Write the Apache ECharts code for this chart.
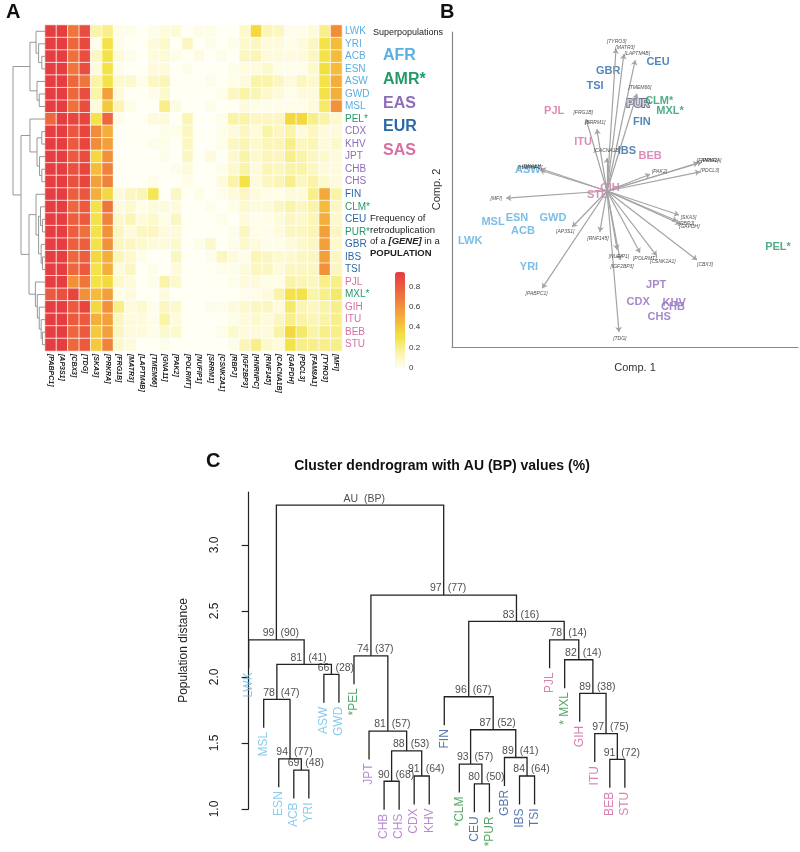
<!DOCTYPE html>
<html><head><meta charset="utf-8">
<script src="https://cdn.jsdelivr.net/npm/echarts@6/dist/echarts.min.js"></script>
<style>html,body{margin:0;padding:0;background:#fff}#c{width:800px;height:852px}</style>
</head><body><div id="c"></div>
<script>
const FONT = '"Liberation Sans", Arial, Helvetica, sans-serif';

// ---------------- Panel A : heatmap ----------------
const populations = ['LWK','YRI','ACB','ESN','ASW','GWD','MSL','PEL*','CDX','KHV','JPT','CHB','CHS','FIN','CLM*','CEU','PUR*','GBR','IBS','TSI','PJL','MXL*','GIH','ITU','BEB','STU'];
const popSuper = ['AFR','AFR','AFR','AFR','AFR','AFR','AFR','AMR','EAS','EAS','EAS','EAS','EAS','EUR','AMR','EUR','AMR','EUR','EUR','EUR','SAS','AMR','SAS','SAS','SAS','SAS'];
const genes = ['[PABPC1]','[AP3S1]','[CBX3]','[TDG]','[SKA3]','[PRKRA]','[FRG1B]','[MATR3]','[LAPTM4B]','[TMEM66]','[GNA11]','[PAK2]','[POLRMT]','[NUFIP1]','[SRRM1]','[CSNK2A1]','[RBPJ]','[IGF2BP3]','[HNRNPC]','[RNF145]','[CACNA1B]','[GAPDH]','[PDCL3]','[FAM8A1]','[TYRO3]','[MFI]'];
const freq = [
 [0.93,0.93,0.70,0.86,0.15,0.20,0.03,0.02,0.00,0.02,0.05,0.06,0.00,0.03,0.03,0.00,0.00,0.08,0.35,0.12,0.10,0.02,0.02,0.05,0.20,0.62],
 [0.93,0.93,0.75,0.88,0.02,0.30,0.02,0.00,0.00,0.05,0.08,0.00,0.10,0.00,0.02,0.00,0.02,0.08,0.10,0.05,0.05,0.03,0.05,0.10,0.30,0.45],
 [0.93,0.93,0.72,0.86,0.10,0.30,0.05,0.02,0.00,0.05,0.06,0.03,0.00,0.04,0.00,0.02,0.00,0.10,0.12,0.05,0.05,0.05,0.05,0.10,0.30,0.45],
 [0.93,0.93,0.70,0.86,0.05,0.30,0.02,0.00,0.00,0.05,0.05,0.00,0.02,0.00,0.00,0.00,0.03,0.04,0.05,0.08,0.03,0.02,0.02,0.08,0.32,0.45],
 [0.93,0.93,0.75,0.70,0.15,0.30,0.08,0.08,0.02,0.10,0.12,0.00,0.00,0.00,0.02,0.00,0.03,0.05,0.15,0.15,0.10,0.05,0.10,0.08,0.30,0.50],
 [0.93,0.93,0.75,0.86,0.15,0.55,0.05,0.00,0.00,0.02,0.08,0.00,0.00,0.00,0.00,0.03,0.10,0.15,0.12,0.08,0.05,0.02,0.05,0.05,0.30,0.50],
 [0.93,0.93,0.72,0.86,0.05,0.40,0.12,0.03,0.00,0.00,0.20,0.04,0.00,0.00,0.02,0.00,0.00,0.05,0.03,0.02,0.02,0.02,0.02,0.05,0.25,0.60],
 [0.75,0.93,0.90,0.90,0.30,0.75,0.03,0.00,0.00,0.05,0.05,0.00,0.12,0.00,0.00,0.02,0.15,0.15,0.10,0.10,0.10,0.35,0.35,0.20,0.15,0.08],
 [0.93,0.93,0.82,0.90,0.62,0.50,0.00,0.00,0.00,0.00,0.02,0.03,0.10,0.00,0.00,0.02,0.05,0.10,0.05,0.15,0.10,0.15,0.05,0.10,0.05,0.05],
 [0.93,0.93,0.80,0.90,0.62,0.55,0.00,0.00,0.00,0.02,0.03,0.00,0.10,0.00,0.00,0.03,0.10,0.12,0.08,0.12,0.12,0.20,0.10,0.12,0.05,0.08],
 [0.93,0.93,0.80,0.86,0.35,0.60,0.00,0.00,0.00,0.00,0.02,0.00,0.10,0.00,0.05,0.00,0.08,0.15,0.08,0.12,0.10,0.20,0.15,0.10,0.08,0.05],
 [0.93,0.93,0.85,0.90,0.45,0.65,0.00,0.00,0.00,0.00,0.00,0.02,0.05,0.00,0.00,0.02,0.08,0.15,0.05,0.12,0.10,0.15,0.15,0.10,0.05,0.05],
 [0.93,0.93,0.85,0.90,0.55,0.65,0.00,0.00,0.00,0.02,0.00,0.00,0.03,0.00,0.00,0.05,0.15,0.30,0.05,0.10,0.12,0.20,0.10,0.15,0.08,0.05],
 [0.93,0.93,0.78,0.82,0.50,0.35,0.05,0.10,0.12,0.28,0.00,0.10,0.00,0.03,0.00,0.02,0.05,0.10,0.05,0.03,0.03,0.05,0.05,0.20,0.52,0.15],
 [0.93,0.93,0.75,0.80,0.30,0.70,0.05,0.08,0.03,0.05,0.05,0.05,0.00,0.00,0.02,0.00,0.03,0.08,0.05,0.05,0.10,0.15,0.10,0.15,0.45,0.10],
 [0.93,0.93,0.78,0.80,0.30,0.65,0.08,0.12,0.05,0.08,0.03,0.10,0.00,0.00,0.00,0.02,0.00,0.05,0.02,0.03,0.05,0.10,0.08,0.12,0.50,0.08],
 [0.93,0.93,0.78,0.72,0.30,0.60,0.10,0.05,0.10,0.10,0.05,0.05,0.00,0.00,0.00,0.00,0.02,0.10,0.03,0.02,0.05,0.10,0.10,0.12,0.55,0.10],
 [0.93,0.93,0.78,0.78,0.30,0.60,0.10,0.10,0.08,0.05,0.05,0.08,0.00,0.02,0.08,0.00,0.02,0.08,0.05,0.02,0.02,0.05,0.08,0.10,0.55,0.08],
 [0.93,0.93,0.75,0.78,0.35,0.50,0.12,0.08,0.03,0.00,0.00,0.10,0.00,0.00,0.02,0.10,0.05,0.02,0.12,0.10,0.08,0.08,0.10,0.10,0.55,0.10],
 [0.93,0.93,0.75,0.80,0.30,0.50,0.05,0.10,0.00,0.02,0.00,0.05,0.00,0.00,0.00,0.02,0.02,0.05,0.10,0.10,0.05,0.10,0.10,0.10,0.60,0.10],
 [0.93,0.93,0.60,0.70,0.30,0.35,0.08,0.05,0.00,0.02,0.15,0.08,0.00,0.00,0.00,0.00,0.02,0.05,0.05,0.03,0.03,0.15,0.12,0.10,0.20,0.20],
 [0.80,0.85,0.90,0.60,0.45,0.55,0.03,0.05,0.00,0.00,0.05,0.00,0.00,0.00,0.00,0.00,0.00,0.02,0.03,0.05,0.15,0.30,0.30,0.15,0.20,0.25],
 [0.93,0.93,0.80,0.90,0.35,0.60,0.20,0.05,0.08,0.02,0.10,0.08,0.00,0.00,0.02,0.02,0.05,0.08,0.10,0.10,0.05,0.25,0.12,0.10,0.15,0.20],
 [0.93,0.93,0.80,0.80,0.50,0.55,0.10,0.05,0.05,0.02,0.15,0.05,0.00,0.00,0.00,0.00,0.03,0.05,0.08,0.05,0.10,0.20,0.15,0.12,0.15,0.20],
 [0.93,0.93,0.75,0.80,0.40,0.55,0.10,0.05,0.05,0.02,0.08,0.08,0.00,0.00,0.00,0.02,0.08,0.05,0.05,0.05,0.15,0.35,0.25,0.15,0.20,0.20],
 [0.93,0.93,0.75,0.80,0.40,0.65,0.08,0.05,0.00,0.00,0.02,0.00,0.00,0.00,0.00,0.00,0.02,0.12,0.20,0.08,0.05,0.30,0.20,0.20,0.20,0.20]
];
// Row dendrogram: [left, right, height]; negative = leaf (row -(i+1)), positive = earlier merge (1-based)
const rowMerges = [
 [-3,-4,0.10],[-2,1,0.20],[-1,2,0.28],[-6,-7,0.18],[-5,4,0.25],[3,5,0.47],
 [-9,-10,0.10],[-12,-13,0.10],[-11,8,0.17],[7,9,0.25],[-8,10,0.47],
 [-16,-17,0.08],[-15,12,0.14],[-19,-20,0.08],[-18,14,0.12],[13,15,0.20],[-14,16,0.28],
 [-25,-26,0.08],[-24,18,0.12],[-23,19,0.18],[-22,20,0.24],[-21,21,0.30],
 [17,22,0.50],[11,23,0.75],[6,24,1.0]
];
const colorTicks = [0, 0.2, 0.4, 0.6, 0.8];
const superNames = ['AFR','AMR*','EAS','EUR','SAS'];
const superKeys = ['AFR','AMR','EAS','EUR','SAS'];

// ---------------- Panel B : biplot ----------------
const bpPops  = ['CEU','GBR','TSI','PJL','PUR','CLM*','MXL*','FIN','ITU','IBS','BEB','ASW','GIH','STU','MSL','ESN','GWD','ACB','LWK','YRI','PEL*','JPT','CDX','KHV','CHB','CHS'];
const comp1   = [0.85,0.02,-0.20,-0.88,0.52,0.87,1.05,0.58,-0.40,0.33,0.72,-1.32,0.05,-0.15,-1.90,-1.50,-0.90,-1.40,-2.28,-1.30,2.85,0.82,0.52,1.12,1.10,0.87];
const comp2   = [2.15,2.00,1.75,1.33,1.45,1.50,1.33,1.15,0.82,0.67,0.58,0.35,0.05,-0.07,-0.52,-0.45,-0.45,-0.67,-0.83,-1.27,-0.93,-1.57,-1.85,-1.87,-1.93,-2.10];
const loadGenes = ['[TYRO3]','[MATR3]','[LAPTM4B]','[TMEM66]','[FRG1B]','[SRRM1]','[CACNA1B]','[HNRNPC]','[GNA11]','[FAM8A1]','[PRKRA]','[PDCL3]','[PAK2]','[MFI]','[AP3S1]','[RNF145]','[SKA3]','[RBPJ]','[GAPDH]','[CBX3]','[CSNK2A1]','[POLRMT]','[NUFIP1]','[IGF2BP3]','[PABPC1]','[TDG]'];
const load1 = [0.15,0.28,0.47,0.50,-0.35,-0.17,0.00,-1.12,-1.10,1.52,1.58,1.55,0.72,-1.68,-0.58,-0.12,1.20,1.17,1.22,1.50,0.83,0.55,0.17,0.22,-1.08,0.20];
const load2 = [2.37,2.28,2.18,1.62,1.20,1.03,0.55,0.35,0.37,0.47,0.48,0.32,0.28,-0.12,-0.60,-0.68,-0.40,-0.50,-0.55,-1.15,-1.08,-1.03,-0.98,-1.15,-1.62,-2.35];

// ---------------- Panel C : pvclust dendrogram ----------------
const leavesC = ['LWK','MSL','ESN','ACB','YRI','ASW','GWD','*PEL','JPT','CHB','CHS','CDX','KHV','FIN','*CLM','CEU','*PUR','GBR','IBS','TSI','PJL','* MXL','GIH','ITU','BEB','STU'];
const leavesCSuper = ['AFR','AFR','AFR','AFR','AFR','AFR','AFR','AMR','EAS','EAS','EAS','EAS','EAS','EUR','AMR','EUR','AMR','EUR','EUR','EUR','SAS','AMR','SAS','SAS','SAS','SAS'];
const mergesC = [
 [-4,-5,1.295],[-3,1,1.38],[-2,2,1.83],[-6,-7,2.02],[3,4,2.095],[-1,5,2.28],
 [-10,-11,1.21],[-12,-13,1.25],[7,8,1.44],[-9,9,1.59],[-8,10,2.16],
 [-16,-17,1.19],[-15,12,1.34],[-19,-20,1.25],[-18,14,1.39],[13,15,1.60],[-14,16,1.85],
 [-25,-26,1.375],[-24,18,1.57],[-23,19,1.875],[-22,20,2.13],[-21,21,2.28],
 [17,22,2.42],[11,23,2.62],[6,24,3.30]
];
const auC = ['69','94','78','66','81','99','90','91','88','81','74','80','93','84','89','87','96','91','97','89','82','78','83','97','AU'];
const bpC = ['(48)','(77)','(47)','(28)','(41)','(90)','(68)','(64)','(53)','(57)','(37)','(50)','(57)','(64)','(41)','(52)','(67)','(72)','(75)','(38)','(14)','(14)','(16)','(77)','(BP)'];
const distTicks = [1.0, 1.5, 2.0, 2.5, 3.0];

// ---------------- helpers ----------------
const supColA = {AFR:'#5aaee0', AMR:'#26996a', EAS:'#8e6cbb', EUR:'#2a69a8', SAS:'#d66fa3'};
const supColC = {AFR:'#6cc0e8', AMR:'#2b9140', EAS:'#a56ec5', EUR:'#2c5597', SAS:'#d0609c'};
const superOf = {};
populations.forEach((p,i)=> superOf[p] = popSuper[i]);

function buildDendro(merges, leafPos, leafH) {
  const nodePos = [], nodeH = [], segs = [], leafBottom = [];
  merges.forEach(m => {
    const h = m[2];
    const ch = [m[0], m[1]].map(c => {
      if (c < 0) { const lh = leafH(h); leafBottom[-c-1] = lh; return {p: leafPos[-c-1], h: lh}; }
      return {p: nodePos[c-1], h: nodeH[c-1]};
    });
    segs.push([[ch[0].p, ch[0].h],[ch[0].p, h],[ch[1].p, h],[ch[1].p, ch[1].h]]);
    nodePos.push((ch[0].p + ch[1].p)/2); nodeH.push(h);
  });
  return {segs, nodePos, nodeH, leafBottom};
}

// Panel A dendrogram (x = height, y = row)
const dA = buildDendro(rowMerges, populations.map((_,i)=>i), () => 0);
const dendroAData = dA.segs.map(s => ({coords: s.map(pt => [pt[1], pt[0]])}));

// Heatmap data
const heatData = [];
freq.forEach((row, r) => row.forEach((v, c) => heatData.push([c, r, v])));

// Panel C dendrogram
const HANG = 0.215;
const dC = buildDendro(mergesC, leavesC.map((_,i)=>i), h => h - HANG);
const dendroCData = dC.segs.map(s => ({coords: s}));
const leafLabelData = leavesC.map((n,i)=>({value:[i, dC.leafBottom[i]], name:n, label:{color: supColC[leavesCSuper[i]]}}));
const auData = dC.nodePos.map((p,k)=>({value:[p, dC.nodeH[k]], name: auC[k]}));
const bpData = dC.nodePos.map((p,k)=>({value:[p, dC.nodeH[k]], name: bpC[k]}));

// Biplot
const popData = bpPops.map((n,i)=>({value:[comp1[i], comp2[i]], name:n, label:{color: supColA[superOf[n]]}}));
const arrowData = loadGenes.map((g,i)=>({coords:[[0,0],[load1[i], load2[i]]]}));
const geneLblData = loadGenes.map((g,i)=>{
  const L = Math.hypot(load1[i], load2[i]);
  const ux = load1[i]/L, uy = load2[i]/L;
  return {value:[load1[i], load2[i]], name:g, label:{offset:[ux*10, -uy*7]}};
});

// Graphics (legend texts etc.)
const graphics = [
  {type:'text', x:6, y:2, style:{text:'A', font:'bold 20px '+FONT, fill:'#111'}},
  {type:'text', x:440, y:2, style:{text:'B', font:'bold 20px '+FONT, fill:'#111'}},
  {type:'text', x:206, y:451, style:{text:'C', font:'bold 20px '+FONT, fill:'#111'}},
  {type:'text', x:442, y:466, style:{text:'Cluster dendrogram with AU (BP) values (%)', font:'bold 14px '+FONT, fill:'#111', textAlign:'center', textVerticalAlign:'middle'}},
  {type:'text', x:373, y:33, style:{text:'Superpopulations', font:'9px '+FONT, fill:'#222', textVerticalAlign:'middle'}},
  {type:'text', x:370, y:213, style:{text:'Frequency of\nretroduplication\nof a {b|[GENE]} in a\n{c|POPULATION}', font:'9.5px '+FONT, fill:'#222', lineHeight:11.5,
     rich:{b:{font:'bold italic 9.5px '+FONT, fill:'#222'}, c:{font:'bold 9.5px '+FONT, fill:'#222'}}}}
];
superNames.forEach((s,i)=>{
  graphics.push({type:'text', x:383, y:56 + i*23.6, style:{text:s, font:'bold 16px '+FONT, fill:supColA[superKeys[i]], textVerticalAlign:'middle'}});
});

const chart = echarts.init(document.getElementById('c'), null, {renderer:'canvas'});
chart.setOption({
  animation:false,
  backgroundColor:'#fff',
  textStyle:{fontFamily:FONT},
  graphic: graphics,
  grid:[
    {left:45, top:25, width:297, height:326},
    {left:13, top:25, width:32, height:326},
    {left:395, top:272, width:10, height:96},
    {left:452, top:32, width:346, height:315},
    {left:233, top:492, width:406, height:317}
  ],
  xAxis:[
    {gridIndex:0, type:'category', data:genes, position:'bottom', axisLine:{show:false}, axisTick:{show:false}, splitLine:{show:false},
      axisLabel:{interval:0, rotate:-90, margin:3, fontSize:7, fontStyle:'italic', fontWeight:'bold', color:'#222'}},
    {gridIndex:1, type:'value', min:0, max:1, inverse:true, show:false},
    {gridIndex:2, type:'value', min:0, max:1, show:false},
    {gridIndex:3, type:'value', min:-2.583, max:3.183, axisLine:{show:true, onZero:false, lineStyle:{color:'#888', width:1.2}}, axisTick:{show:false}, axisLabel:{show:false}, splitLine:{show:false},
      name:'Comp. 1', nameLocation:'middle', nameGap:15, nameTextStyle:{fontSize:11, color:'#333', padding:[0,0,0,20]}},
    {gridIndex:4, type:'value', min:-1.04, max:25.94, show:false}
  ],
  yAxis:[
    {gridIndex:0, type:'category', data:populations, inverse:true, position:'right', axisLine:{show:false}, axisTick:{show:false}, splitLine:{show:false},
      axisLabel:{interval:0, margin:3, fontSize:10, color:(v,i)=>supColA[popSuper[populations.indexOf(v)]]}},
    {gridIndex:1, type:'value', min:-0.5, max:25.5, inverse:true, show:false},
    {gridIndex:2, type:'value', min:0, max:0.94, position:'right', axisLine:{show:false}, axisTick:{show:false}, splitLine:{show:false},
      axisLabel:{customValues:colorTicks, margin:4, fontSize:8, color:'#333', formatter:v=> v===0 ? '0' : String(v)}},
    {gridIndex:3, type:'value', min:-2.6, max:2.65, axisLine:{show:true, onZero:false, lineStyle:{color:'#888', width:1.2}}, axisTick:{show:false}, axisLabel:{show:false}, splitLine:{show:false},
      name:'Comp. 2', nameLocation:'middle', nameGap:10, nameRotate:90, nameTextStyle:{fontSize:11, color:'#333'}},
    {gridIndex:4, type:'value', min:1.0, max:3.4, axisLine:{show:true, lineStyle:{color:'#222', width:1.2}},
      axisTick:{show:true, customValues:distTicks, length:7, lineStyle:{color:'#222', width:1.2}}, splitLine:{show:false},
      axisLabel:{customValues:distTicks, rotate:90, margin:12, fontSize:12, color:'#222', formatter:v=>v.toFixed(1)},
      name:'Population distance', nameLocation:'middle', nameGap:43, nameTextStyle:{fontSize:12, color:'#222'}}
  ],
  visualMap:{
    type:'continuous', seriesIndex:0, min:0, max:0.94, calculable:false, hoverLink:false, realtime:false,
    left:395, top:272, itemWidth:10, itemHeight:96, padding:0, text:null, showLabel:false,
    inRange:{color:['#fffff4','#faf3a6','#f2e240','#f5b63b','#f08a3a','#ec5e3e','#e63c40']}
  },
  series:[
    {type:'heatmap', xAxisIndex:0, yAxisIndex:0, data:heatData, silent:true,
      itemStyle:{borderColor:'rgba(255,255,255,0.75)', borderWidth:1}},
    {type:'lines', coordinateSystem:'cartesian2d', xAxisIndex:1, yAxisIndex:1, polyline:true, silent:true, clip:false,
      lineStyle:{color:'#8c8c8c', width:0.9, opacity:1}, data:dendroAData},
    {type:'scatter', xAxisIndex:2, yAxisIndex:2, data:[], silent:true},
    {type:'scatter', xAxisIndex:3, yAxisIndex:3, symbolSize:0, data:popData, silent:true, z:2,
      label:{show:true, position:'inside', formatter:'{b}', fontSize:11, fontWeight:'bold', align:'center', verticalAlign:'middle'}},
    {type:'lines', coordinateSystem:'cartesian2d', xAxisIndex:3, yAxisIndex:3, silent:true, clip:false, z:3,
      symbol:['none','arrow'], symbolSize:5, lineStyle:{color:'#a3a3a3', width:1.2, opacity:1}, data:arrowData},
    {type:'scatter', xAxisIndex:3, yAxisIndex:3, symbolSize:0, data:geneLblData, silent:true, z:4,
      label:{show:true, position:'inside', formatter:'{b}', fontSize:5, fontStyle:'italic', color:'#222', align:'center', verticalAlign:'middle'}},
    {type:'lines', coordinateSystem:'cartesian2d', xAxisIndex:4, yAxisIndex:4, polyline:true, silent:true, clip:false,
      lineStyle:{color:'#222', width:1.3, opacity:1}, data:dendroCData},
    {type:'scatter', xAxisIndex:4, yAxisIndex:4, symbolSize:0, data:leafLabelData, silent:true, clip:false,
      label:{show:true, position:[0,4], rotate:90, align:'right', verticalAlign:'middle', formatter:'{b}', fontSize:12}},
    {type:'scatter', xAxisIndex:4, yAxisIndex:4, symbolSize:0, data:auData, silent:true, clip:false,
      label:{show:true, position:[-2,-1], align:'right', verticalAlign:'bottom', formatter:'{b}', fontSize:10.5, color:'#222'}},
    {type:'scatter', xAxisIndex:4, yAxisIndex:4, symbolSize:0, data:bpData, silent:true, clip:false,
      label:{show:true, position:[4,-1], align:'left', verticalAlign:'bottom', formatter:'{b}', fontSize:10.5, color:'#222'}}
  ]
});
</script></body></html>
